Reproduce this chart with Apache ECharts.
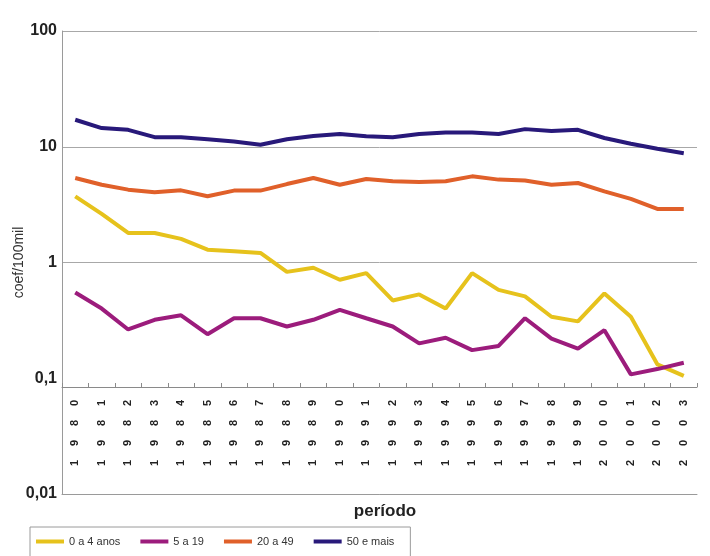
<!DOCTYPE html>
<html>
<head>
<meta charset="utf-8">
<script src="https://cdn.jsdelivr.net/npm/echarts@6/dist/echarts.min.js"></script>
<style>
  html, body { margin: 0; padding: 0; background: #fff; }
  #container { width: 710px; height: 556px; }
</style>
</head>
<body>
<div id="container"></div>
<script>
var dom = document.getElementById("container");
var myChart = echarts.init(dom);

var years = ['1980', '1981', '1982', '1983', '1984', '1985', '1986', '1987', '1988', '1989', '1990', '1991',
    '1992', '1993', '1994', '1995', '1996', '1997', '1998', '1999', '2000', '2001', '2002', '2003'];

var seriesNames = ['0 a 4 anos', '5 a 19', '20 a 49', '50 e mais'];

var age0a4 = [3.73, 2.63, 1.80, 1.80, 1.60, 1.29, 1.25, 1.21, 0.83, 0.90, 0.71, 0.81,
    0.47, 0.53, 0.40, 0.81, 0.58, 0.51, 0.34, 0.31, 0.54, 0.34, 0.132, 0.105];
var age5a19 = [0.55, 0.40, 0.264, 0.32, 0.35, 0.24, 0.33, 0.33, 0.28, 0.32, 0.39, 0.33,
    0.28, 0.20, 0.224, 0.175, 0.19, 0.33, 0.22, 0.18, 0.26, 0.108, 0.12, 0.136];
var age20a49 = [5.37, 4.70, 4.26, 4.04, 4.20, 3.73, 4.18, 4.18, 4.76, 5.37, 4.70, 5.27,
    5.03, 4.96, 5.03, 5.55, 5.20, 5.10, 4.70, 4.86, 4.12, 3.54, 2.90, 2.90];
var age50mais = [17.1, 14.5, 14.0, 12.1, 12.1, 11.6, 11.1, 10.4, 11.6, 12.4, 12.9, 12.3,
    12.1, 12.9, 13.3, 13.3, 12.9, 14.2, 13.7, 14.0, 11.9, 10.6, 9.6, 8.8];

var colors = ['#e6c21c', '#9c1c7c', '#e0602a', '#28197a'];
var sans = '"Liberation Sans", Arial, sans-serif';

function yLabel(v) {
    var p = Math.round(Math.log(v) / Math.LN10);
    if (p >= 0) return String(Math.pow(10, p));
    return '0,' + new Array(-p).join('0') + '1';
}

function lineSeries(name, data, color) {
    return {
        name: name,
        type: 'line',
        xAxisIndex: 0,
        data: data,
        symbol: 'none',
        lineStyle: { color: color, width: 4 },
        itemStyle: { color: color }
    };
}

var option = {
    animation: false,
    color: colors,
    grid: {
        left: 62,
        right: 13,
        top: 31,
        bottom: 62,
        containLabel: false,
        outerBoundsMode: 'none'
    },
    legend: {
        left: 30,
        top: 527,
        padding: [9, 16, 20, 6],
        borderColor: '#9a9a9a',
        borderWidth: 1,
        itemWidth: 28,
        itemHeight: 4,
        itemGap: 20,
        icon: 'rect',
        textStyle: { fontFamily: sans, fontSize: 11, color: '#333' },
        data: seriesNames
    },
    xAxis: [{
        type: 'category',
        data: years,
        position: 'bottom',
        offset: -107,
        axisLine: { show: true, lineStyle: { color: '#8a8a8a', width: 1 } },
        axisTick: { show: true, inside: true, length: 4, lineStyle: { color: '#8a8a8a' } },
        axisLabel: {
            interval: 0,
            rotate: 90,
            margin: 6,
            color: '#222',
            fontFamily: sans,
            fontWeight: 'bold',
            fontSize: 11,
            formatter: function (v) {
                return v.split('').map(function (c) { return '{d|' + c + '}'; }).join('');
            },
            rich: {
                d: { width: 20, align: 'center', fontWeight: 'bold', fontSize: 11, color: '#222' }
            }
        },
        splitLine: { show: false }
    }, {
        type: 'category',
        data: years,
        position: 'bottom',
        axisLine: { show: true, lineStyle: { color: '#9a9a9a', width: 1 } },
        axisTick: { show: false },
        axisLabel: { show: false },
        name: 'período',
        nameLocation: 'middle',
        nameGap: 9,
        nameMoveOverlap: false,
        nameTextStyle: {
            fontFamily: sans,
            fontWeight: 'bold',
            fontSize: 17,
            color: '#222',
            verticalAlign: 'top',
            padding: [0, 0, 0, 11]
        }
    }],
    yAxis: {
        type: 'log',
        logBase: 10,
        min: 0.01,
        max: 100,
        name: 'coef/100mil',
        nameLocation: 'middle',
        nameGap: 36,
        nameRotate: 90,
        nameMoveOverlap: false,
        nameTextStyle: { fontFamily: sans, fontSize: 14, color: '#333' },
        axisLine: { show: true, lineStyle: { color: '#9a9a9a', width: 1 } },
        axisTick: { show: false },
        axisLabel: {
            margin: 5,
            color: '#222',
            fontFamily: sans,
            fontWeight: 'bold',
            fontSize: 16,
            formatter: yLabel
        },
        splitLine: {
            show: true,
            lineStyle: { color: ['#a8a8a8', 'rgba(0,0,0,0)', '#a8a8a8', '#a8a8a8', '#a8a8a8'], width: 1 }
        }
    },
    series: [
        lineSeries(seriesNames[0], age0a4, colors[0]),
        lineSeries(seriesNames[1], age5a19, colors[1]),
        lineSeries(seriesNames[2], age20a49, colors[2]),
        lineSeries(seriesNames[3], age50mais, colors[3])
    ]
};

myChart.setOption(option);
</script>
</body>
</html>
